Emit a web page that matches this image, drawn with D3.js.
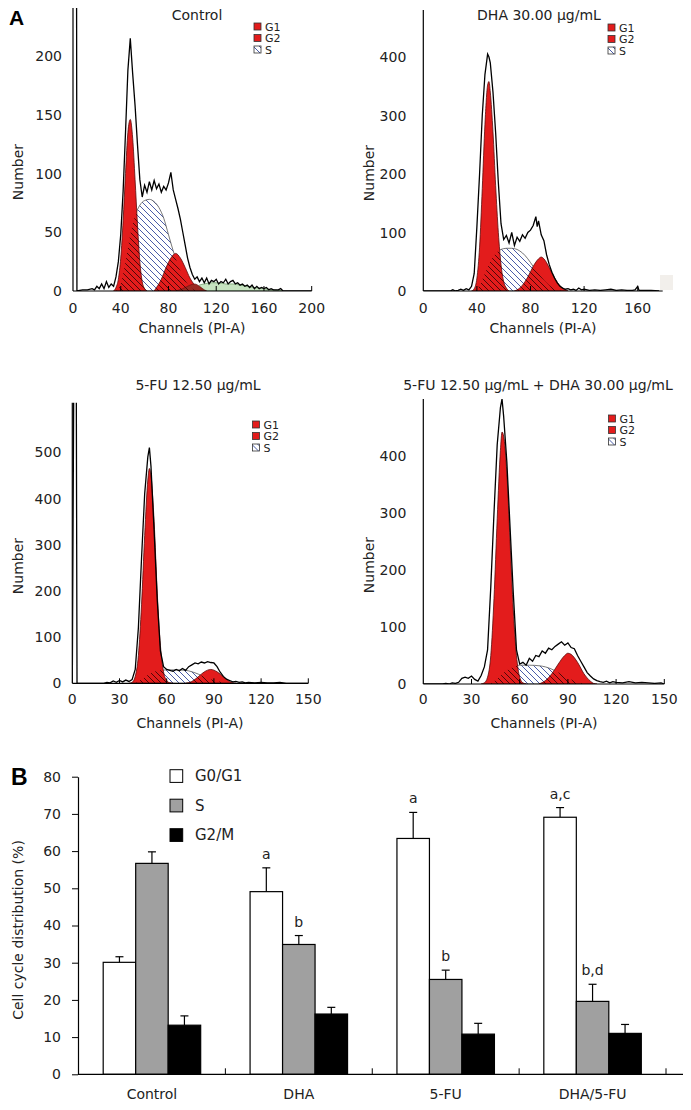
<!DOCTYPE html>
<html>
<head>
<meta charset="utf-8">
<script src="https://cdnjs.cloudflare.com/ajax/libs/d3/7.8.5/d3.min.js"></script>
<style>
  body { margin: 0; background: #fff; }
  svg { font-family: "DejaVu Sans", Verdana, sans-serif; }
</style>
</head>
<body>
<svg id="fig" width="691" height="1110"></svg>
<script>
// ---------- panel A : DNA histograms, [channel, count] ----------
const ctlRaw = [[0,250],[3,250],[3.3,0],[8,1],[12,1],[16,2],[18,1],[20,4],[22,2],[24,6],[26,2],[28,8],[30,3],[32,6],[34,4],[36,12],[38,25],[40,48],[42,85],[44,135],[46,188],[48,215],[50,185],[52,158],[54,125],[56,95],[58,80],[60,90],[62,84],[64,93],[66,86],[68,94],[70,87],[72,91],[74,84],[76,89],[78,86],[80,92],[82,101],[84,86],[86,78],[88,70],[90,61],[92,50],[94,39],[96,28],[98,20],[100,14],[102,10],[104,12],[106,8],[108,11],[110,7],[112,11],[114,6],[116,9],[118,8],[120,10],[122,6],[124,8],[126,7],[128,10],[130,6],[132,8],[134,9],[136,6],[138,7],[140,5],[142,6],[144,4],[146,5],[148,3],[150,5],[152,2],[154,4],[156,2],[158,3],[160,2],[162,3],[164,1],[166,2],[168,1],[170,1],[172,1],[174,2],[176,0],[200,0]];
const ctlG1 = [[34,0],[36,3],[38,10],[40,28],[42,60],[44,100],[46,135],[48,146],[50,130],[52,95],[54,57],[56,25],[58,8],[60,2],[62,0]];
const ctlS = [[36,0],[40,6],[44,25],[48,48],[52,64],[56,73],[60,77],[64,78],[68,76],[72,71],[76,62],[80,48],[84,34],[88,22],[92,13],[96,6],[100,2],[104,0]];
const ctlG2 = [[68,0],[70,3],[74,10],[78,20],[82,28],[86,32],[90,28],[94,20],[98,11],[102,5],[106,1],[108,0]];
const ctlAgg = [[86,0],[92,2],[98,5],[102,6],[106,4],[110,1],[112,0]];
const ctlDebris = [[102,0],[106,5],[110,6],[116,7],[122,7],[128,6],[134,6],[140,5],[146,4],[152,3],[160,2],[168,1],[176,0]];
const ctlXTicks = [0,40,80,120,160,200];
const ctlYTicks = [0,50,100,150,200];

const dhaRaw = [[0,0],[20,0],[22,2],[24,0],[26,1],[28,3],[30,1],[32,4],[34,2],[36,8],[38,30],[40,110],[42,200],[44,300],[46,370],[48,405],[49,400],[50,390],[52,340],[54,270],[56,185],[58,115],[60,88],[62,95],[64,82],[66,100],[68,78],[70,92],[72,85],[74,96],[76,90],[78,100],[80,104],[82,112],[84,127],[85,110],[86,120],[88,96],[90,86],[92,62],[94,45],[96,32],[98,22],[100,14],[102,8],[104,5],[106,3],[108,4],[110,2],[112,3],[114,1],[116,5],[118,2],[120,3],[124,1],[128,2],[132,1],[136,2],[140,3],[144,1],[148,2],[152,1],[156,1],[158,2],[160,8],[161,1],[164,1],[170,1],[176,0]];
const dhaG1 = [[36,0],[38,4],[40,22],[42,75],[44,175],[46,285],[48,352],[49,358],[50,340],[52,272],[54,180],[56,100],[58,45],[60,16],[62,5],[64,0]];
const dhaS = [[38,0],[42,10],[46,30],[50,50],[54,64],[58,71],[62,73],[66,73],[70,71],[74,65],[78,55],[82,42],[86,30],[90,19],[94,10],[98,4],[102,1],[104,0]];
const dhaG2 = [[68,0],[70,2],[74,10],[78,24],[82,42],[86,55],[88,58],[90,55],[94,40],[98,22],[102,9],[106,2],[108,0]];
const dhaXTicks = [0,40,80,120,160];
const dhaYTicks = [0,100,200,300,400];

const fuRaw = [[0,0],[1,700],[2.5,700],[3,0],[20,0],[22,2],[24,1],[26,5],[28,2],[30,6],[32,3],[34,7],[36,4],[38,8],[40,30],[42,120],[44,270],[46,410],[48,490],[49,510],[50,470],[52,330],[54,180],[56,70],[58,36],[60,30],[62,28],[64,26],[66,30],[68,27],[70,32],[72,28],[74,36],[76,40],[78,44],[80,42],[82,46],[84,44],[86,47],[88,45],[90,44],[92,36],[94,24],[96,15],[98,9],[100,6],[102,3],[104,4],[106,2],[108,3],[110,1],[112,2],[116,1],[120,2],[124,1],[128,1],[132,2],[136,0],[150,0]];
const fuG1 = [[36,0],[38,2],[40,15],[42,60],[44,170],[46,320],[48,440],[49,465],[50,450],[52,350],[54,195],[56,82],[58,25],[60,6],[62,1],[64,0]];
const fuS = [[40,0],[44,8],[48,18],[52,25],[56,28],[60,29],[66,29],[72,28],[76,25],[80,20],[84,14],[88,9],[92,5],[96,2],[100,0]];
const fuG2 = [[72,0],[76,4],[80,14],[84,25],[88,30],[92,25],[96,14],[100,4],[102,1],[104,0]];
const fuXTicks = [0,30,60,90,120,150];
const fuYTicks = [0,100,200,300,400,500];

const comboRaw = [[0,0],[12,0],[14,1],[16,0],[18,2],[20,1],[22,3],[24,10],[26,12],[28,10],[30,14],[32,8],[34,5],[36,15],[38,30],[40,60],[42,170],[44,300],[46,420],[48,485],[49,500],[50,470],[52,390],[54,275],[56,160],[58,60],[60,35],[62,38],[64,33],[66,45],[68,40],[70,50],[72,48],[74,58],[76,54],[78,63],[80,60],[82,66],[84,70],[86,74],[88,68],[90,72],[92,64],[94,62],[96,50],[98,40],[100,30],[102,20],[104,14],[106,9],[108,6],[110,4],[112,3],[114,5],[116,2],[118,4],[120,3],[124,2],[128,4],[132,2],[136,3],[140,2],[144,1],[148,2],[150,0]];
const comboG1 = [[36,0],[38,2],[40,12],[42,50],[44,150],[46,290],[48,410],[49,442],[50,435],[52,370],[54,250],[56,130],[58,50],[60,12],[62,2],[64,0]];
const comboS = [[40,0],[44,5],[48,14],[52,24],[56,30],[60,33],[66,33],[72,32],[76,30],[80,26],[84,20],[88,14],[92,8],[96,3],[100,1],[102,0]];
const comboG2 = [[72,0],[76,6],[80,18],[84,35],[88,50],[90,54],[92,52],[96,38],[100,18],[104,5],[106,1],[108,0]];
const comboXTicks = [0,30,60,90,120,150];
const comboYTicks = [0,100,200,300,400];

const legendNames = ["G1","G2","S"];

// ---------- panel B : cell cycle distribution (%) ----------
const groups = ["Control","DHA","5-FU","DHA/5-FU"];
const phases = ["G0/G1","S","G2/M"];
const g0g1 = [30.1, 49.1, 63.4, 69.1];
const sPhase = [56.7, 34.9, 25.5, 19.6];
const g2m = [13.2, 16.2, 10.8, 11.0];
const g0g1Err = [1.5, 6.4, 7.0, 2.6];
const sErr = [3.1, 2.4, 2.5, 4.6];
const g2mErr = [2.5, 1.8, 2.9, 2.4];
const g0g1Sig = ["", "a", "a", "a,c"];
const sSig = ["", "b", "b", "b,d"];
const g2mSig = ["", "", "", ""];
const barYTicks = [0,10,20,30,40,50,60,70,80];

const svg = d3.select("#fig");
const defs = svg.append("defs");

function hatch(id, color, width, bg) {
  const p = defs.append("pattern").attr("id", id)
    .attr("patternUnits", "userSpaceOnUse").attr("width", 6).attr("height", 6);
  if (bg) p.append("rect").attr("width", 6).attr("height", 6).attr("fill", bg);
  p.append("path").attr("d", "M0,0L6,6M-1,5L1,7M5,-1L7,1")
    .attr("stroke", color).attr("stroke-width", width);
}
hatch("blueHatch", "#4a5ca8", 1, "#fff");
hatch("darkHatch", "#3d0606", 0.9, null);

const RED = "#e31c1c";

const panels = [
  {id:1, title:"Control", raw:ctlRaw, g1:ctlG1, g2:ctlG2, s:ctlS, agg:ctlAgg, debris:ctlDebris,
   xTicks:ctlXTicks, yTicks:ctlYTicks, xRef:200, x0:73, xRefPx:311.7, xEnd:311.7,
   yRef:200, y0:291, yRefPx:56, yTop:8, titleX:197, titleY:15, numX:18, numY:172,
   legX:254, legY:23, labGap:11, xLabY:308, chanX:192, chanY:328},
  {id:2, title:"DHA 30.00 μg/mL", raw:dhaRaw, g1:dhaG1, g2:dhaG2, s:dhaS,
   xTicks:dhaXTicks, yTicks:dhaYTicks, xRef:160, x0:423.3, xRefPx:637.7, xEnd:662.7,
   yRef:400, y0:291, yRefPx:57, yTop:10, titleX:539, titleY:15, numX:369, numY:173,
   legX:608, legY:24, labGap:17, xLabY:308, chanX:543, chanY:328, artifact:true},
  {id:3, title:"5-FU 12.50 μg/mL", raw:fuRaw, g1:fuG1, g2:fuG2, s:fuS,
   xTicks:fuXTicks, yTicks:fuYTicks, xRef:150, x0:72.3, xRefPx:308.3, xEnd:308.3,
   yRef:500, y0:683.3, yRefPx:452.3, yTop:402.7, titleX:198, titleY:385, numX:18, numY:566,
   legX:252.5, legY:421, labGap:11, xLabY:699, chanX:190, chanY:723},
  {id:4, title:"5-FU 12.50 μg/mL + DHA 30.00 μg/mL", raw:comboRaw, g1:comboG1, g2:comboG2, s:comboS,
   xTicks:comboXTicks, yTicks:comboYTicks, xRef:150, x0:423.3, xRefPx:664.3, xEnd:664.3,
   yRef:400, y0:684, yRefPx:456, yTop:399, titleX:538, titleY:385, numX:369, numY:565,
   legX:608.5, legY:415, labGap:17, xLabY:699, chanX:544, chanY:723}
];

panels.forEach(drawPanel);

function drawPanel(p) {
  const x = d3.scaleLinear().domain([0, p.xRef]).range([p.x0, p.xRefPx]);
  const y = d3.scaleLinear().domain([0, p.yRef]).range([p.y0, p.yRefPx]);
  const g = svg.append("g");

  defs.append("clipPath").attr("id", "plot" + p.id).append("rect")
    .attr("x", p.x0).attr("y", p.yTop)
    .attr("width", p.xEnd - p.x0).attr("height", p.y0 - p.yTop);

  const area = d3.area().x(d => x(d[0])).y0(y(0)).y1(d => y(d[1])).curve(d3.curveMonotoneX);
  const line = d3.line().x(d => x(d[0])).y(d => y(d[1]));

  defs.append("clipPath").attr("id", "sclip" + p.id).append("path").attr("d", area(p.s));

  const pg = g.append("g").attr("clip-path", `url(#plot${p.id})`);

  if (p.debris) pg.append("path").attr("d", area(p.debris))
      .attr("fill", "#c6e3c0").attr("stroke", "#6f9a6a").attr("stroke-width", 0.8);

  pg.append("path").attr("d", area(p.s))
    .attr("fill", "url(#blueHatch)").attr("stroke", "#555").attr("stroke-width", 0.8);

  [p.g1, p.g2].forEach(c => {
    pg.append("path").attr("d", area(c))
      .attr("fill", RED).attr("stroke", "#5a0b0b").attr("stroke-width", 0.8);
  });
  if (p.agg) pg.append("path").attr("d", area(p.agg))
      .attr("fill", "#9b2a22").attr("stroke", "#5a0b0b").attr("stroke-width", 0.6);

  [p.g1, p.g2].forEach(c => {
    pg.append("path").attr("d", area(c))
      .attr("fill", "url(#darkHatch)").attr("clip-path", `url(#sclip${p.id})`);
  });

  pg.append("path").attr("d", line(p.raw))
    .attr("fill", "none").attr("stroke", "#000").attr("stroke-width", 1.3);

  if (p.artifact) g.append("rect").attr("x", 660).attr("y", 275)
      .attr("width", 13).attr("height", 15).attr("fill", "#f2efeb");

  // axes
  g.append("line").attr("x1", p.x0).attr("x2", p.x0).attr("y1", p.y0).attr("y2", p.yTop)
    .attr("stroke", "#000").attr("stroke-width", 1.2);
  g.append("line").attr("x1", p.x0).attr("x2", p.xEnd).attr("y1", p.y0).attr("y2", p.y0)
    .attr("stroke", "#000").attr("stroke-width", 1.2);

  g.selectAll(".xt").data(p.xTicks.filter(v => v > 0)).join("line")
    .attr("x1", d => x(d)).attr("x2", d => x(d))
    .attr("y1", p.y0).attr("y2", p.y0 - 5)
    .attr("stroke", "#000");

  g.selectAll(".xl").data(p.xTicks).join("text")
    .attr("x", d => x(d)).attr("y", p.xLabY)
    .attr("text-anchor", "middle").attr("dominant-baseline", "central")
    .attr("font-size", 14).attr("fill", "#222").text(d => d);

  g.selectAll(".yl").data(p.yTicks).join("text")
    .attr("x", p.x0 - p.labGap).attr("y", d => y(d))
    .attr("text-anchor", "end").attr("dominant-baseline", "central")
    .attr("font-size", 14).attr("fill", "#222").text(d => d);

  g.append("text").attr("x", p.titleX).attr("y", p.titleY)
    .attr("text-anchor", "middle").attr("dominant-baseline", "central")
    .attr("font-size", 14).attr("fill", "#222").text(p.title);

  g.append("text").attr("transform", `translate(${p.numX},${p.numY}) rotate(-90)`)
    .attr("text-anchor", "middle").attr("dominant-baseline", "central")
    .attr("font-size", 14).attr("fill", "#222").text("Number");

  g.append("text").attr("x", p.chanX).attr("y", p.chanY)
    .attr("text-anchor", "middle").attr("dominant-baseline", "central")
    .attr("font-size", 14).attr("fill", "#222").text("Channels (PI-A)");

  // legend
  const leg = g.append("g").attr("transform", `translate(${p.legX},${p.legY})`);
  legendNames.forEach((n, i) => {
    leg.append("rect").attr("x", 0).attr("y", i * 11.5).attr("width", 7).attr("height", 7)
      .attr("fill", n === "S" ? "url(#blueHatch)" : RED)
      .attr("stroke", "#333").attr("stroke-width", 0.8);
    leg.append("text").attr("x", 11).attr("y", i * 11.5 + 4)
      .attr("dominant-baseline", "central").attr("font-size", 11).attr("fill", "#222").text(n);
  });
}

// ---------- bar chart ----------
const by = d3.scaleLinear().domain([0, 80]).range([1074.3, 776.7]);
const bx0 = d3.scaleBand().domain(groups).range([78.5, 666]);
const bx1 = d3.scaleBand().domain(phases).range([0, bx0.bandwidth()]).paddingOuter(0.76);

const series = [
  {name: "G0/G1", vals: g0g1, err: g0g1Err, sig: g0g1Sig, fill: "#fff"},
  {name: "S", vals: sPhase, err: sErr, sig: sSig, fill: "#a0a0a0"},
  {name: "G2/M", vals: g2m, err: g2mErr, sig: g2mSig, fill: "#000"}
];

const bg = svg.append("g");
series.forEach(s => {
  groups.forEach((grp, i) => {
    const cx = bx0(grp) + bx1(s.name) + bx1.bandwidth() / 2;
    const top = by(s.vals[i] + s.err[i]);
    bg.append("line").attr("x1", cx).attr("x2", cx)
      .attr("y1", by(s.vals[i])).attr("y2", top).attr("stroke", "#000").attr("stroke-width", 1.2);
    bg.append("line").attr("x1", cx - 4).attr("x2", cx + 4)
      .attr("y1", top).attr("y2", top).attr("stroke", "#000").attr("stroke-width", 1.2);
    bg.append("rect").attr("x", bx0(grp) + bx1(s.name)).attr("y", by(s.vals[i]))
      .attr("width", bx1.bandwidth()).attr("height", by(0) - by(s.vals[i]))
      .attr("fill", s.fill).attr("stroke", "#000").attr("stroke-width", 1.2);
    if (s.sig[i]) bg.append("text").attr("x", cx).attr("y", top - 9)
      .attr("text-anchor", "middle").attr("font-size", 14).attr("fill", "#222").text(s.sig[i]);
  });
});

const yAxis = d3.axisLeft(by).tickValues(barYTicks).tickSize(6).tickPadding(11).tickSizeOuter(0);
bg.append("g").attr("transform", "translate(78,0)").call(yAxis)
  .call(a => a.selectAll("text").attr("font-size", 14).attr("fill", "#222").attr("font-family", "DejaVu Sans"))
  .call(a => a.select(".domain").attr("stroke-width", 1.2));

bg.append("line").attr("x1", 78).attr("x2", 683).attr("y1", by(0)).attr("y2", by(0))
  .attr("stroke", "#000").attr("stroke-width", 1.2);
bg.selectAll(".gt").data(groups).join("line")
  .attr("x1", d => bx0(d) + bx0.bandwidth()).attr("x2", d => bx0(d) + bx0.bandwidth())
  .attr("y1", by(0)).attr("y2", by(0) - 6).attr("stroke", "#000");
bg.selectAll(".gl").data(groups).join("text")
  .attr("x", d => bx0(d) + bx0.bandwidth() / 2).attr("y", 1094)
  .attr("text-anchor", "middle").attr("dominant-baseline", "central")
  .attr("font-size", 14).attr("fill", "#222").text(d => d);

bg.append("text").attr("transform", "translate(18,930) rotate(-90)")
  .attr("text-anchor", "middle").attr("dominant-baseline", "central")
  .attr("font-size", 14).attr("fill", "#222").text("Cell cycle distribution (%)");

series.forEach((s, i) => {
  const cy = 776 + i * 29.5;
  bg.append("rect").attr("x", 170).attr("y", cy - 6.3).attr("width", 12.7).attr("height", 12.7)
    .attr("fill", s.fill).attr("stroke", "#000").attr("stroke-width", 1);
  bg.append("text").attr("x", 195).attr("y", cy).attr("dominant-baseline", "central")
    .attr("font-size", 15).attr("fill", "#222").text(s.name);
});

svg.append("text").attr("x", 9).attr("y", 25).attr("font-family", "Liberation Sans, Arial, sans-serif")
  .attr("font-weight", "bold").attr("font-size", 21).text("A");
svg.append("text").attr("x", 11).attr("y", 785).attr("font-family", "Liberation Sans, Arial, sans-serif")
  .attr("font-weight", "bold").attr("font-size", 23).text("B");
</script>
</body>
</html>
